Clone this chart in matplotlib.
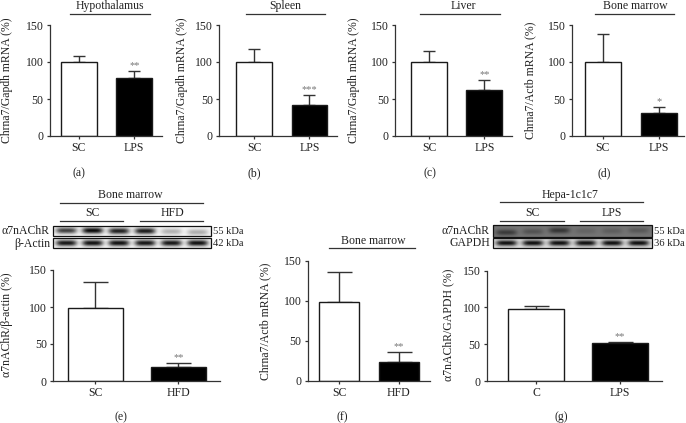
import numpy as np
import matplotlib
matplotlib.use('Agg')
import matplotlib.pyplot as plt
from matplotlib.patches import Rectangle

plt.rcParams['font.family'] = ['Liberation Serif', 'DejaVu Serif']
FS = 8.5
plt.rcParams['font.size'] = FS

W, H = 686, 423
fig = plt.figure(figsize=(W / 100, H / 100), dpi=100)

# ---------------- data ----------------
cats_lps = ['SC', 'LPS']
cats_hfd = ['SC', 'HFD']
cats_cell = ['C', 'LPS']

hyp_mean = [100, 78.5]
hyp_err = [8.6, 10.0]
hyp_stars = ['', '**']

spleen_mean = [100, 42]
spleen_err = [17.8, 14.0]
spleen_stars = ['', '***']

liver_mean = [100, 61.5]
liver_err = [14.6, 14.5]
liver_stars = ['', '**']

bm_lps_mean = [100, 31]
bm_lps_err = [38, 8.3]
bm_lps_stars = ['', '*']

bm_hfd_prot_mean = [99, 19.4]
bm_hfd_prot_err = [35, 5.3]
bm_hfd_prot_stars = ['', '**']

bm_hfd_mrna_mean = [99, 24]
bm_hfd_mrna_err = [37, 11.5]
bm_hfd_mrna_stars = ['', '**']

hepa_mean = [98.2, 51.8]
hepa_err = [4.0, 1.8]
hepa_stars = ['', '**']

yticks = [0, 50, 100, 150]

# western blot band darkness (0 = none, 1 = black), six lanes each
blot_e_a7 = [0.75, 0.97, 0.88, 0.90, 0.28, 0.30]
blot_e_actin = [0.92, 0.94, 0.94, 0.92, 0.92, 0.94]
blot_g_a7 = [0.50, 0.30, 0.55, 0.15, 0.20, 0.25]
blot_g_gapdh = [0.94, 0.94, 0.94, 0.94, 0.94, 0.94]

# ---------------- overlay for annotations ----------------
ov = fig.add_axes([0, 0, 1, 1], zorder=10)
ov.set_facecolor('none')
ov.axis('off')

EDGE = '#1a1a1a'
AX = '#333333'
TXT = '#222222'
KFS = 7.6


def bar_panel(l, r, t, b, cats, means, errs, stars, xlim, width, capsize):
    ax = fig.add_axes([l / W, 1 - b / H, (r - l) / W, (b - t) / H])
    ax.set_facecolor('none')
    x = np.arange(len(cats))
    ax.errorbar(x, means, yerr=[np.zeros(len(errs)), errs], fmt='none',
                ecolor=AX, elinewidth=1.0, capsize=capsize, capthick=1.0, zorder=1)
    ax.bar(x, means, width=width, color=['white', 'black'], edgecolor=EDGE,
           linewidth=1.0, zorder=2)
    for i, s in enumerate(stars):
        if s:
            ax.annotate(s, (x[i], means[i] + errs[i]), xytext=(0, 0.5),
                        textcoords='offset points', ha='center', va='bottom',
                        fontsize=7.5, color='#777777')
    ax.set_xlim(*xlim)
    ax.set_ylim(0, 150)
    ax.set_yticks(yticks)
    ax.set_xticks(x)
    ax.set_xticklabels(cats)
    for s in ['top', 'right']:
        ax.spines[s].set_visible(False)
    for s in ['left', 'bottom']:
        ax.spines[s].set_linewidth(0.9)
        ax.spines[s].set_color(AX)
    ax.tick_params(length=2.5, width=0.9, color=AX, pad=2, labelsize=FS,
                   labelcolor=TXT)
    return ax


def title_line(text, xc, ty, lx0, lx1, ly):
    ov.text(xc, ty, text, ha='center', va='center', fontsize=FS, color=TXT)
    ov.plot([lx0, lx1], [ly, ly], color=AX, lw=0.9)


def ylab(x, y, text):
    ov.text(x, y, text, rotation=90, ha='center', va='center', fontsize=FS,
            color=TXT)


def blot(x0, x1, y0, y1, dark, bg, band_h=0.28, yoffs=None):
    ny, nx = 40, 300
    yy, xx = np.mgrid[0:1:ny * 1j, 0:1:nx * 1j]
    n = len(dark)
    centers = (np.arange(n) + 0.5) / n
    if yoffs is None:
        yoffs = [0.5] * n
    dsum = np.zeros_like(xx)
    for c, d, yo in zip(centers, dark, yoffs):
        dsum += d * np.exp(-((xx - c) / (0.40 / n)) ** 4) * \
            np.exp(-((yy - yo) / band_h) ** 2)
    img = bg * (1 - np.clip(dsum, 0, 1))
    ov.imshow(img, extent=[x0, x1, y1, y0], cmap='gray', vmin=0, vmax=1,
              aspect='auto', interpolation='bilinear', origin='upper')
    ov.add_patch(Rectangle((x0, y0), x1 - x0, y1 - y0, fill=False,
                           edgecolor='#111111', lw=0.9))


# ---------------- top row ----------------
bar_panel(50, 162, 25, 136, cats_lps, hyp_mean, hyp_err, hyp_stars, (-0.52, 1.5), 0.65, 4)
bar_panel(219, 337, 25, 136, cats_lps, spleen_mean, spleen_err, spleen_stars, (-0.64, 1.5), 0.65, 4)
bar_panel(395, 512, 25, 136, cats_lps, liver_mean, liver_err, liver_stars, (-0.62, 1.5), 0.65, 4)
bar_panel(572, 684, 25, 136, cats_lps, bm_lps_mean, bm_lps_err, bm_lps_stars, (-0.55, 1.45), 0.65, 4)

title_line('Hypothalamus', 110, 6, 70, 150, 13.8)
title_line('Spleen', 285, 6, 246, 325, 13.8)
title_line('Liver', 463, 6, 420, 500, 13.8)
title_line('Bone marrow', 635, 6, 595, 674, 13.8)

ylab(7, 80, 'Chrna7/Gapdh mRNA (%)')
ylab(182, 80, 'Chrna7/Gapdh mRNA (%)')
ylab(353.5, 80, 'Chrna7/Gapdh mRNA (%)')
ylab(530, 80, 'Chrna7/Actb mRNA (%)')

for lab, xc in zip(['(a)', '(b)', '(c)', '(d)'], [79, 254, 430, 604]):
    ov.text(xc, 173, lab, ha='center', va='center', fontsize=FS, color=TXT)

# ---------------- panel e ----------------
title_line('Bone marrow', 130, 195, 60, 203, 203)
ov.text(92, 212.5, 'SC', ha='center', va='center', fontsize=FS, color=TXT)
ov.text(172, 212.5, 'HFD', ha='center', va='center', fontsize=FS, color=TXT)
ov.plot([60, 123], [221, 221], color=AX, lw=0.9)
ov.plot([140, 203], [221, 221], color=AX, lw=0.9)
blot(53, 211, 226.5, 236.5, blot_e_a7, 0.97, band_h=0.32,
     yoffs=[0.45, 0.45, 0.5, 0.5, 0.55, 0.62])
blot(53, 211, 238.5, 248.5, blot_e_actin, 0.97, band_h=0.32)
ov.text(50, 231.5, 'α7nAChR', ha='right', va='center', fontsize=FS, color=TXT)
ov.text(50, 243.5, 'β-Actin', ha='right', va='center', fontsize=FS, color=TXT)
ov.text(213, 231.5, '55 kDa', ha='left', va='center', fontsize=KFS, color=TXT)
ov.text(213, 243.5, '42 kDa', ha='left', va='center', fontsize=KFS, color=TXT)

bar_panel(53, 220, 270, 381, cats_hfd, bm_hfd_prot_mean, bm_hfd_prot_err,
          bm_hfd_prot_stars, (-0.51, 1.5), 0.66, 9)
ylab(7, 325, 'α7nAChR/β-actin (%)')
ov.text(121, 417, '(e)', ha='center', va='center', fontsize=FS, color=TXT)

# ---------------- panel f ----------------
bar_panel(308, 430, 260.7, 380.7, cats_hfd, bm_hfd_mrna_mean, bm_hfd_mrna_err,
          bm_hfd_mrna_stars, (-0.52, 1.52), 0.67, 9)
title_line('Bone marrow', 373, 240.5, 329, 415, 247.7)
ylab(265, 321, 'Chrna7/Actb mRNA (%)')
ov.text(342, 417, '(f)', ha='center', va='center', fontsize=FS, color=TXT)

# ---------------- panel g ----------------
title_line('Hepa-1c1c7', 570, 195, 500, 643, 202)
ov.text(532, 212.5, 'SC', ha='center', va='center', fontsize=FS, color=TXT)
ov.text(612, 212.5, 'LPS', ha='center', va='center', fontsize=FS, color=TXT)
ov.plot([500, 564], [221, 221], color=AX, lw=0.9)
ov.plot([580, 643], [221, 221], color=AX, lw=0.9)
blot(493, 652, 225.5, 237, blot_g_a7, 0.46, band_h=0.25,
     yoffs=[0.62, 0.55, 0.45, 0.5, 0.5, 0.45])
blot(493, 652, 238.5, 248.5, blot_g_gapdh, 0.88, band_h=0.30)
ov.text(490, 231, 'α7nAChR', ha='right', va='center', fontsize=FS, color=TXT)
ov.text(490, 243.5, 'GAPDH', ha='right', va='center', fontsize=FS, color=TXT)
ov.text(654, 231, '55 kDa', ha='left', va='center', fontsize=KFS, color=TXT)
ov.text(654, 243.5, '36 kDa', ha='left', va='center', fontsize=KFS, color=TXT)

bar_panel(486.7, 661.7, 270.7, 381, cats_cell, hepa_mean, hepa_err, hepa_stars,
          (-0.59, 1.5), 0.67, 9)
ylab(448, 325, 'α7nAChR/GAPDH (%)')
ov.text(561, 417, '(g)', ha='center', va='center', fontsize=FS, color=TXT)

ov.set_xlim(0, W)
ov.set_ylim(H, 0)

fig.savefig('out.png', dpi=100)
